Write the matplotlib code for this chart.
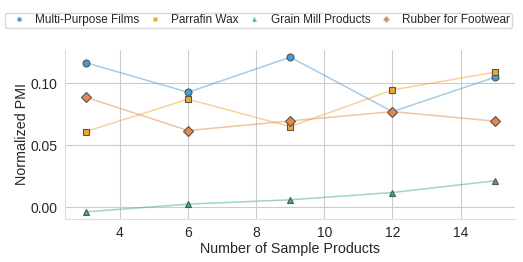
import matplotlib
matplotlib.use("Agg")
import matplotlib.pyplot as plt
import seaborn as sns

sns.set_style("whitegrid")
plt.rcParams['font.family'] = ['Liberation Sans', 'DejaVu Sans']

sample_sizes = [3, 6, 9, 12, 15]
multi_purpose_films = [0.1166, 0.0927, 0.1210, 0.0771, 0.1048]
parrafin_wax = [0.0610, 0.0871, 0.0650, 0.0946, 0.1089]
grain_mill_products = [-0.0038, 0.0024, 0.0059, 0.0118, 0.0212]
rubber_for_footwear = [0.0887, 0.0618, 0.0696, 0.0771, 0.0694]

series = [
    ("Multi-Purpose Films", multi_purpose_films, "#4a9bd1", "o"),
    ("Parrafin Wax", parrafin_wax, "#f0a830", "s"),
    ("Grain Mill Products", grain_mill_products, "#3aae8c", "^"),
    ("Rubber for Footwear", rubber_for_footwear, "#e5884a", "D"),
]

fig, ax = plt.subplots(figsize=(5.23, 2.62), dpi=100)

for name, vals, color, marker in series:
    ax.plot(sample_sizes, vals, color=color, alpha=0.5, lw=1.1)
    ax.plot(sample_sizes, vals, linestyle="none", marker=marker, markersize=5,
            markerfacecolor=color, markeredgecolor="#555555", markeredgewidth=0.8,
            label=name)

ax.set_xlabel("Number of Sample Products", fontsize=10.3, labelpad=1)
ax.set_ylabel("Normalized PMI", fontsize=10.3, labelpad=1.5)
ax.tick_params(labelsize=10, pad=2)
ax.set_xticks([4, 6, 8, 10, 12, 14])
ax.set_yticks([0.0, 0.05, 0.10])
ax.set_ylim(-0.0094, 0.127)
sns.despine(ax=ax)
for s in ["left", "bottom"]:
    ax.spines[s].set_color("#dddddd")

leg = ax.legend(loc="center", bbox_to_anchor=(0.494, 0.922), bbox_transform=fig.transFigure,
                ncol=4, fontsize=8.5, handletextpad=0.4, columnspacing=0.3, markerscale=0.7,
                borderpad=0.15, borderaxespad=0, frameon=True, fancybox=True)
for h in leg.legend_handles:
    h.set_markeredgecolor("#dddddd")
    h.set_markeredgewidth(0.5)

fig.subplots_adjust(left=0.125, right=0.985, top=0.81, bottom=0.165)
fig.savefig("out.png", dpi=100)
